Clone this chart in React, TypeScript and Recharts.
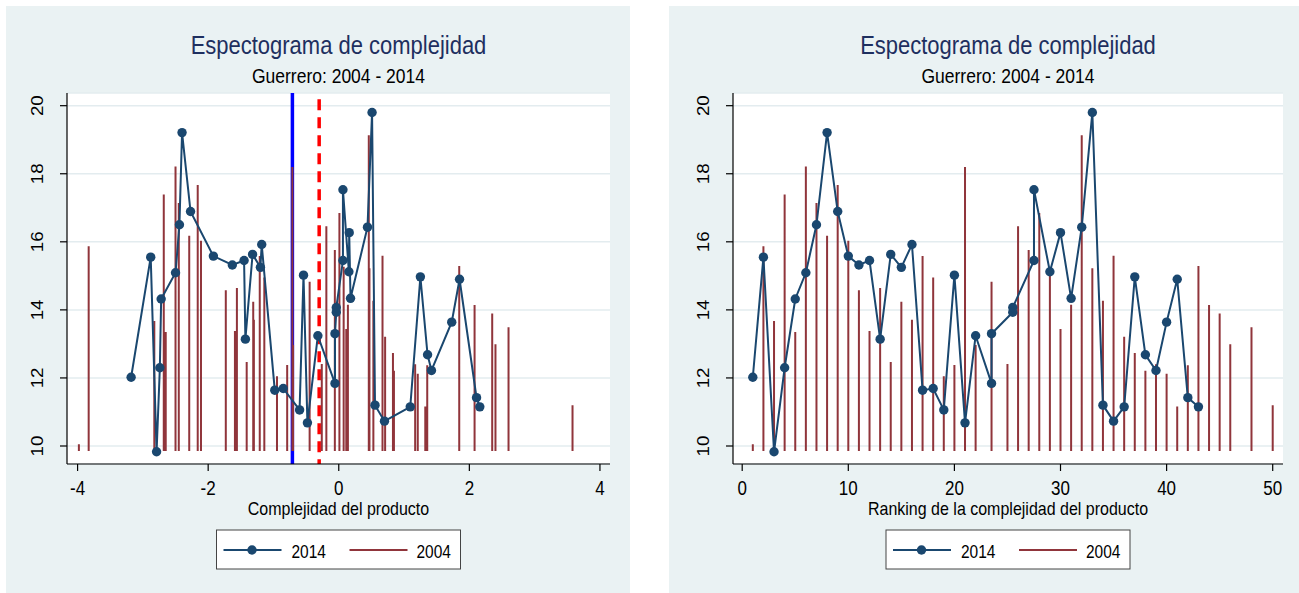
import React from "react";
import { ComposedChart, Line, XAxis, YAxis, CartesianGrid } from "recharts";

// 2014: complejidad, ranking y valor de cada producto
const complexity2014 = [
  -3.18, -2.88, -2.79, -2.74, -2.72, -2.5, -2.44, -2.4, -2.27, -1.92, -1.63, -1.45, -1.43, -1.32,
  -1.2, -1.18, -0.98, -0.85, -0.6, -0.54, -0.48, -0.32, -0.058, -0.058, -0.038, -0.038, 0.064,
  0.064, 0.155, 0.16, 0.18, 0.44, 0.51, 0.555, 0.7, 1.095, 1.25, 1.36, 1.42, 1.73, 1.85, 2.11, 2.16,
];
const rank2014 = [
  1, 2, 3, 4, 5, 6, 7, 8, 9, 10, 11, 12, 13, 14, 15, 16, 17, 18, 19, 20, 21, 22, 23.5, 23.5, 25.5,
  25.5, 27.5, 27.5, 29, 30, 31, 32, 33, 34, 35, 36, 37, 38, 39, 40, 41, 42, 43,
];
const values2014 = [
  12.02, 15.55, 9.83, 12.3, 14.32, 15.09, 16.5, 19.21, 16.89, 15.58, 15.32, 15.45, 13.14, 15.63,
  15.25, 15.92, 11.64, 11.69, 11.06, 15.02, 10.68, 13.24, 11.84, 13.3, 13.93, 14.07, 15.45, 17.53,
  15.12, 16.27, 14.34, 16.43, 19.8, 11.2, 10.73, 11.15, 14.97, 12.68, 12.22, 13.64, 14.9, 11.42, 11.15,
];

// 2004: complejidad, ranking y valor (espigas)
const complexity2004 = [
  -3.98, -3.83, -2.825, -2.68, -2.65, -2.5, -2.45, -2.29, -2.16, -2.11, -1.73, -1.59, -1.56, -1.41,
  -1.31, -1.3, -1.21, -1.14, -0.946, -0.79, -0.71, -0.7, -0.446, -0.26, -0.19, -0.06, 0.01, 0.075,
  0.115, 0.14, 0.46, 0.47, 0.53, 0.67, 0.71, 0.83, 0.845, 1.17, 1.21, 1.325, 1.355, 1.845, 2.08,
  2.35, 2.4, 2.6, 3.58,
];
const rank2004 = [
  1, 2, 3, 4, 5, 6, 7, 8, 9, 10, 11, 12, 13, 14, 15, 16, 17, 18, 19, 20, 21, 22, 23.5, 25, 26, 27,
  28, 29, 30, 31, 32, 33, 34, 35, 36, 37, 38, 39, 40, 41, 42, 43, 44, 45, 46, 48, 50,
];
const values2004 = [
  10.05, 15.87, 13.67, 17.39, 13.35, 18.21, 17.14, 16.18, 17.67, 16.03, 14.58, 13.38, 14.64, 12.47,
  14.24, 13.71, 15.58, 14.95, 12.05, 12.38, 18.2, 12.97, 14.83, 12.41, 16.46, 15.76, 16.85, 15.27,
  13.44, 14.15, 19.13, 15.22, 14.27, 15.59, 13.21, 12.73, 12.21, 12.4, 12.12, 11.16, 12.37, 15.29,
  14.14, 13.89, 12.99, 13.49, 11.2,
];
const spikeBase = 9.85;

// lineas de referencia (complejidad)
const blueLineAt = -0.71;
const redLineAt = -0.3;

const yTicks = [10, 12, 14, 16, 18, 20];
const yDomain: [number, number] = [9.471, 20.373];
const complexityTicks = [-4, -2, 0, 2, 4];
const complexityDomain: [number, number] = [-4.162, 4.154];
const rankTicks = [0, 10, 20, 30, 40, 50];
const rankDomain: [number, number] = [-0.867, 50.97];

const title = "Espectograma de complejidad";
const subtitle = "Guerrero: 2004 - 2014";
const legendNames = ["2014", "2004"];

const NAVY = "#1A476F";
const MAROON = "#90353B";
const BG = "#EAF2F3";
const FONT = "'Liberation Sans', Arial, Helvetica, sans-serif";

const PANEL_TOP = 6;
const PANEL_H = 587;
const PLOT_TOP = 93;
const PLOT_BOTTOM = 464;
const STRETCH = 1.15;

type Pt = { x: number; y: number | null };

const pointsOf = (xs: number[], ys: number[]): Pt[] => xs.map((x, i) => ({ x, y: ys[i] }));
const spikesOf = (xs: number[], ys: number[]): Pt[] =>
  xs.flatMap((x, i) => [
    { x, y: spikeBase },
    { x, y: ys[i] },
    { x, y: null },
  ]);

const XTick = (props: any) => {
  const { x, y, payload } = props;
  return (
    <text
      transform={`translate(${x},${y + 24}) scale(1,${STRETCH})`}
      textAnchor="middle"
      fontSize={17}
      fontFamily={FONT}
      fill="#000"
    >
      {payload.value}
    </text>
  );
};

const YTick = (props: any) => {
  const { x, y, payload } = props;
  return (
    <text
      transform={`translate(${x - 17},${y}) rotate(-90) scale(1.1,1)`}
      textAnchor="middle"
      fontSize={17}
      fontFamily={FONT}
      fill="#000"
    >
      {payload.value}
    </text>
  );
};

interface PanelProps {
  panelLeft: number;
  panelWidth: number;
  plotLeft: number;
  plotRight: number;
  xDomain: [number, number];
  xTicks: number[];
  xLabel: string;
  xs2014: number[];
  xs2004: number[];
  showRefLines: boolean;
}

const Panel: React.FC<PanelProps> = ({
  panelLeft,
  panelWidth,
  plotLeft,
  plotRight,
  xDomain,
  xTicks,
  xLabel,
  xs2014,
  xs2004,
  showRefLines,
}) => {
  const cx = (plotLeft + plotRight) / 2 - panelLeft;
  const rel = (yAbs: number) => yAbs - PANEL_TOP;
  const line2014 = pointsOf(xs2014, values2014);
  const spikes = spikesOf(xs2004, values2004);
  const blue: Pt[] = [
    { x: blueLineAt, y: yDomain[1] },
    { x: blueLineAt, y: yDomain[0] },
  ];
  const red: Pt[] = [
    { x: redLineAt, y: 20.19 },
    { x: redLineAt, y: yDomain[0] },
  ];

  return (
    <div
      style={{
        position: "absolute",
        left: panelLeft,
        top: PANEL_TOP,
        width: panelWidth,
        height: PANEL_H,
        background: BG,
      }}
    >
      <ComposedChart
        width={panelWidth}
        height={PANEL_H}
        margin={{
          top: PLOT_TOP - PANEL_TOP,
          right: panelLeft + panelWidth - plotRight,
          bottom: PANEL_H - (PLOT_BOTTOM - PANEL_TOP) - 40,
          left: 0,
        }}
      >
        <CartesianGrid
          vertical={false}
          horizontal={true}
          fill="#FFFFFF"
          stroke="#E3ECEF"
          strokeWidth={1.5}
        />
        <XAxis
          type="number"
          dataKey="x"
          domain={xDomain}
          ticks={xTicks}
          allowDataOverflow
          height={40}
          tickSize={7}
          tickMargin={0}
          tick={<XTick />}
          axisLine={{ stroke: "#000", strokeWidth: 1.2 }}
          tickLine={{ stroke: "#000", strokeWidth: 1.2 }}
        />
        <YAxis
          type="number"
          domain={yDomain}
          ticks={yTicks}
          allowDataOverflow
          width={plotLeft - panelLeft}
          tickSize={7}
          tickMargin={0}
          tick={<YTick />}
          axisLine={{ stroke: "#000", strokeWidth: 1.2 }}
          tickLine={{ stroke: "#000", strokeWidth: 1.2 }}
        />
        {showRefLines && (
          <Line
            data={blue}
            dataKey="y"
            stroke="#0000FF"
            strokeWidth={3.5}
            dot={false}
            activeDot={false}
            isAnimationActive={false}
          />
        )}
        {showRefLines && (
          <Line
            data={red}
            dataKey="y"
            stroke="#FF0000"
            strokeWidth={3.5}
            strokeDasharray="11 7"
            dot={false}
            activeDot={false}
            isAnimationActive={false}
          />
        )}
        <Line
          data={spikes}
          dataKey="y"
          stroke={MAROON}
          strokeWidth={2}
          connectNulls={false}
          dot={false}
          activeDot={false}
          isAnimationActive={false}
        />
        <Line
          data={line2014}
          dataKey="y"
          stroke={NAVY}
          strokeWidth={2}
          dot={{ r: 4.7, fill: NAVY, stroke: NAVY, strokeWidth: 0 }}
          activeDot={false}
          isAnimationActive={false}
        />
      </ComposedChart>

      <svg
        width={panelWidth}
        height={PANEL_H}
        style={{ position: "absolute", left: 0, top: 0, pointerEvents: "none" }}
        fontFamily={FONT}
      >
        <text
          transform={`translate(${cx},${rel(54.3)}) scale(1,${STRETCH})`}
          textAnchor="middle"
          fontSize={22}
          fill="#1E2F5F"
        >
          {title}
        </text>
        <text
          transform={`translate(${cx},${rel(83.3)}) scale(1,${STRETCH})`}
          textAnchor="middle"
          fontSize={17.5}
          fill="#000"
        >
          {subtitle}
        </text>
        <text
          transform={`translate(${cx},${rel(515)}) scale(1,${STRETCH})`}
          textAnchor="middle"
          fontSize={16}
          fill="#000"
        >
          {xLabel}
        </text>
        <rect
          x={cx - 122}
          y={rel(530)}
          width={244}
          height={39}
          fill="#FFFFFF"
          stroke="#444"
          strokeWidth={1}
        />
        <line x1={cx - 115} x2={cx - 57} y1={rel(550)} y2={rel(550)} stroke={NAVY} strokeWidth={2} />
        <circle cx={cx - 86.5} cy={rel(550)} r={4.7} fill={NAVY} />
        <text
          transform={`translate(${cx - 47},${rel(557.7)}) scale(1,${STRETCH})`}
          fontSize={15.5}
          fill="#000"
        >
          {legendNames[0]}
        </text>
        <line x1={cx + 11} x2={cx + 69} y1={rel(550)} y2={rel(550)} stroke={MAROON} strokeWidth={2} />
        <text
          transform={`translate(${cx + 78},${rel(557.7)}) scale(1,${STRETCH})`}
          fontSize={15.5}
          fill="#000"
        >
          {legendNames[1]}
        </text>
      </svg>
    </div>
  );
};

export default function App() {
  return (
    <div
      style={{
        position: "absolute",
        left: 0,
        top: 0,
        width: 1299,
        height: 593,
        background: "#FFFFFF",
        overflow: "hidden",
      }}
    >
      <Panel
        panelLeft={6}
        panelWidth={624}
        plotLeft={67}
        plotRight={610}
        xDomain={complexityDomain}
        xTicks={complexityTicks}
        xLabel="Complejidad del producto"
        xs2014={complexity2014}
        xs2004={complexity2004}
        showRefLines={true}
      />
      <Panel
        panelLeft={669}
        panelWidth={630}
        plotLeft={733}
        plotRight={1283}
        xDomain={rankDomain}
        xTicks={rankTicks}
        xLabel="Ranking de la complejidad del producto"
        xs2014={rank2014}
        xs2004={rank2004}
        showRefLines={false}
      />
    </div>
  );
}
